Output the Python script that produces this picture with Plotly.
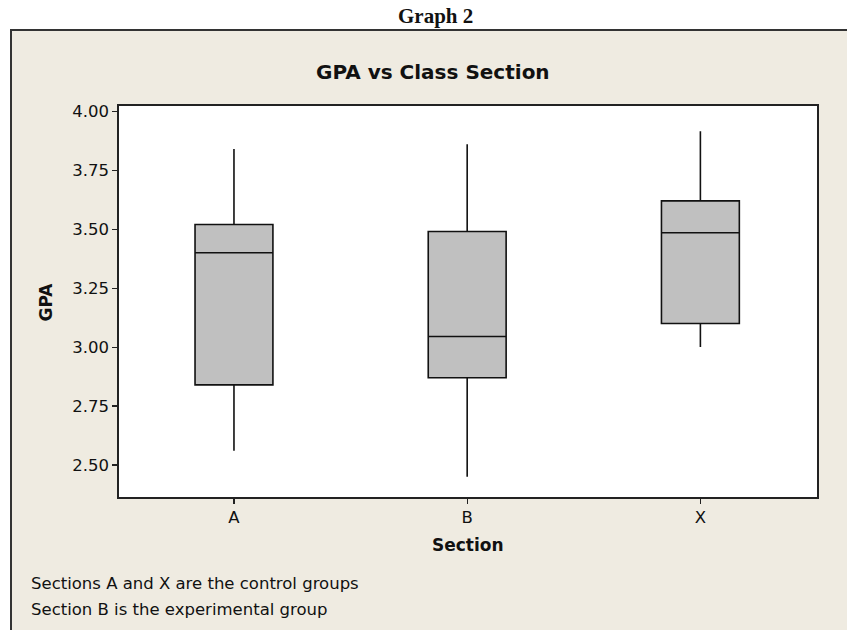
import plotly.graph_objects as go

# ---- data ----
sections = ["A", "B", "X"]
lower_whisker = [2.56, 2.45, 3.00]
q1_values = [2.84, 2.87, 3.10]
median_values = [3.40, 3.045, 3.485]
q3_values = [3.52, 3.49, 3.62]
upper_whisker = [3.84, 3.86, 3.915]
y_ticks = [2.50, 2.75, 3.00, 3.25, 3.50, 3.75, 4.00]
y_tick_labels = ["2.50", "2.75", "3.00", "3.25", "3.50", "3.75", "4.00"]

W, H = 847, 630
ML, MR, MT, MB = 119, 30, 106, 133
PW, PH = W - ML - MR, H - MT - MB

def px_x(px):
    return (px - ML) / PW

def px_y(py):
    return (H - MB - py) / PH

BEIGE = "#EFEBE1"
FONT = "DejaVu Sans"

fig = go.Figure()
fig.add_trace(go.Box(
    x=sections,
    q1=q1_values,
    median=median_values,
    q3=q3_values,
    lowerfence=lower_whisker,
    upperfence=upper_whisker,
    boxpoints=False,
    whiskerwidth=0,
    width=0.334,
    fillcolor="#C0C0C0",
    line=dict(color="#111111", width=1.6),
    showlegend=False,
    hoverinfo="skip",
))

fig.update_layout(
    width=W, height=H,
    margin=dict(l=ML, r=MR, t=MT, b=MB),
    paper_bgcolor=BEIGE,
    plot_bgcolor="white",
    font=dict(family=FONT, size=16.5, color="#111111"),
    xaxis=dict(
        type="category",
        range=[-0.493, 2.5],
        showline=True, mirror=True, linecolor="#222222", linewidth=1.6,
        ticks="outside", ticklen=5, tickcolor="#222222", tickwidth=1.2,
        showgrid=False, zeroline=False,
        tickfont=dict(family=FONT, size=16.5, color="#111111"),
        fixedrange=True,
    ),
    yaxis=dict(
        range=[2.3643, 4.0225],
        tickvals=y_ticks, ticktext=y_tick_labels,
        showline=True, mirror=True, linecolor="#222222", linewidth=1.6,
        ticks="outside", ticklen=5, tickcolor="#222222", tickwidth=1.2,
        showgrid=False, zeroline=False,
        tickfont=dict(family=FONT, size=16.5, color="#111111"),
        fixedrange=True,
    ),
    shapes=[
        # white area outside the beige panel (top strip and left strip)
        dict(type="rect", xref="paper", yref="paper",
             x0=px_x(-5), x1=px_x(W + 5), y0=px_y(30), y1=px_y(-5),
             fillcolor="white", line=dict(width=0), layer="above"),
        dict(type="rect", xref="paper", yref="paper",
             x0=px_x(-5), x1=px_x(11), y0=px_y(H + 5), y1=px_y(30),
             fillcolor="white", line=dict(width=0), layer="above"),
        # panel border
        dict(type="rect", xref="paper", yref="paper",
             x0=px_x(11), x1=px_x(W + 10), y0=px_y(H + 10), y1=px_y(30),
             fillcolor="rgba(0,0,0,0)", line=dict(color="#333333", width=2),
             layer="above"),
    ],
    annotations=[
        dict(text="<b>Graph 2</b>", xref="paper", yref="paper",
             x=px_x(435), y=px_y(16), xanchor="center", yanchor="middle",
             showarrow=False,
             font=dict(family="Liberation Serif", size=21, color="#111111")),
        dict(text="<b>GPA vs Class Section</b>", xref="paper", yref="paper",
             x=px_x(433), y=px_y(72), xanchor="center", yanchor="middle",
             showarrow=False,
             font=dict(family=FONT, size=20, color="#111111")),
        dict(text="<b>Section</b>", xref="paper", yref="paper",
             x=px_x(468), y=px_y(545), xanchor="center", yanchor="middle",
             showarrow=False,
             font=dict(family=FONT, size=17, color="#111111")),
        dict(text="<b>GPA</b>", xref="paper", yref="paper",
             x=px_x(45.5), y=px_y(302), xanchor="center", yanchor="middle",
             textangle=-90, showarrow=False,
             font=dict(family=FONT, size=17, color="#111111")),
        dict(text="Sections A and X are the control groups", xref="paper", yref="paper",
             x=px_x(29), y=px_y(583), xanchor="left", yanchor="middle",
             showarrow=False,
             font=dict(family=FONT, size=16.5, color="#111111")),
        dict(text="Section B is the experimental group", xref="paper", yref="paper",
             x=px_x(29), y=px_y(609), xanchor="left", yanchor="middle",
             showarrow=False,
             font=dict(family=FONT, size=16.5, color="#111111")),
    ],
)

fig.write_html(
    "out.html",
    config={"displayModeBar": False, "staticPlot": True},
    post_script="document.body.style.margin='0px';document.body.style.overflow='hidden';",
)
